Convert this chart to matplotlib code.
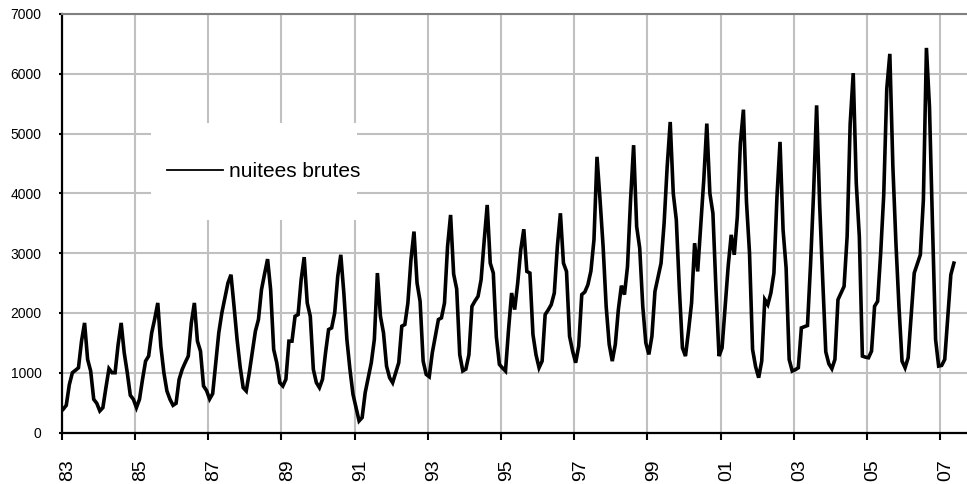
import numpy as np
import matplotlib
matplotlib.use('Agg')
import matplotlib.pyplot as plt
from matplotlib.lines import Line2D
from matplotlib.patches import Rectangle
from matplotlib.transforms import ScaledTranslation

plt.rcParams['font.family'] = ['Liberation Sans', 'DejaVu Sans']

# monthly raw overnight stays (nuitees brutes), Jan..Dec, one list per year
n83 = [390, 455, 800, 1000, 1040, 1083, 1528, 1833, 1222, 1028, 555, 489]
n84 = [361, 416, 750, 1067, 1000, 1000, 1472, 1833, 1333, 1000, 622, 555]
n85 = [416, 555, 889, 1194, 1278, 1667, 1900, 2167, 1444, 1000, 694, 555]
n86 = [455, 489, 889, 1055, 1170, 1278, 1833, 2167, 1528, 1361, 778, 700]
n87 = [560, 650, 1150, 1667, 2000, 2250, 2500, 2639, 2111, 1556, 1100, 750]
n88 = [694, 1000, 1350, 1694, 1889, 2389, 2650, 2900, 2389, 1389, 1167, 833]
n89 = [778, 889, 1528, 1528, 1944, 1972, 2556, 2933, 2167, 1944, 1056, 833]
n90 = [750, 889, 1333, 1722, 1750, 2000, 2611, 2972, 2333, 1556, 1056, 639]
n91 = [420, 194, 250, 667, 920, 1167, 1556, 2667, 1944, 1667, 1111, 917]
n92 = [833, 1000, 1167, 1778, 1806, 2167, 2889, 3361, 2500, 2194, 1194, 972]
n93 = [933, 1333, 1610, 1889, 1917, 2167, 3111, 3639, 2650, 2400, 1300, 1030]
n94 = [1060, 1300, 2111, 2200, 2278, 2556, 3200, 3806, 2833, 2667, 1600, 1139]
n95 = [1080, 1028, 1722, 2333, 2056, 2500, 3056, 3400, 2694, 2667, 1639, 1300]
n96 = [1083, 1194, 1972, 2050, 2139, 2333, 3111, 3667, 2833, 2694, 1611, 1361]
n97 = [1167, 1444, 2306, 2350, 2470, 2700, 3222, 4611, 3889, 3111, 2111, 1472]
n98 = [1194, 1472, 2056, 2456, 2306, 2778, 3889, 4806, 3444, 3083, 2111, 1500]
n99 = [1306, 1611, 2361, 2600, 2833, 3500, 4444, 5194, 4000, 3556, 2400, 1417]
n00 = [1278, 1700, 2167, 3167, 2694, 3450, 4222, 5167, 4000, 3667, 2400, 1278]
n01 = [1417, 2100, 2778, 3306, 2972, 3611, 4833, 5400, 3861, 3000, 1389, 1100]
n02 = [917, 1194, 2222, 2139, 2333, 2667, 3944, 4861, 3389, 2750, 1222, 1028]
n03 = [1050, 1083, 1750, 1770, 1789, 2800, 4000, 5472, 3800, 2550, 1350, 1150]
n04 = [1067, 1222, 2222, 2333, 2444, 3278, 5167, 6011, 4167, 3278, 1278, 1260]
n05 = [1250, 1361, 2111, 2194, 3000, 3972, 5750, 6333, 4444, 3167, 2100, 1194]
n06 = [1083, 1250, 1950, 2667, 2820, 2972, 3889, 6433, 5444, 3444, 1556, 1111]
n07 = [1122, 1222, 1930, 2639, 2833]

tick_labels = ['83', '85', '87', '89', '91', '93', '95', '97',
               '99', '01', '03', '05', '07']
y_ticks = [0, 1000, 2000, 3000, 4000, 5000, 6000, 7000]
series_name = 'nuitees brutes'

years = [n83, n84, n85, n86, n87, n88, n89, n90, n91, n92, n93, n94, n95,
         n96, n97, n98, n99, n00, n01, n02, n03, n04, n05, n06, n07]
values = np.concatenate([np.array(y, dtype=float) for y in years])
months = np.arange(len(values))

fig = plt.figure(figsize=(9.67, 4.84), dpi=100)
ax = fig.add_axes([0.0638, 0.1064, 0.9362, 0.8647])

ax.plot(months, values, color='black', lw=2.6, solid_joinstyle='miter', zorder=3)

# category axis: ticks sit between categories, one label every 24 months
ax.set_xlim(-0.5, 296.3)
ax.set_xticks(np.arange(len(tick_labels)) * 24 - 0.5)
ax.set_xticklabels(tick_labels, rotation=90)
ax.set_ylim(0, 7000)
ax.set_yticks(y_ticks)

ax.set_axisbelow(True)
ax.grid(True, color='#c0c0c0', lw=1.5)

for s in ['left', 'bottom']:
    ax.spines[s].set_color('black')
    ax.spines[s].set_linewidth(1.6)
ax.spines['top'].set_color('#808080')
ax.spines['top'].set_linewidth(1.5)
ax.spines['right'].set_visible(False)

ax.tick_params(axis='x', direction='out', length=5, width=1.5, pad=14.5,
               labelsize=14, colors='black')
ax.tick_params(axis='y', direction='out', length=2.4, width=1.5, pad=12,
               labelsize=10, colors='black')
shift = ScaledTranslation(0.06, 0, fig.dpi_scale_trans)
for lbl in ax.get_xticklabels():
    lbl.set_transform(lbl.get_transform() + shift)

# legend box (white, hides gridlines behind it)
ax.add_patch(Rectangle((0.0983, 0.5078), 0.2279, 0.2325, transform=ax.transAxes,
                       facecolor='white', edgecolor='none', zorder=1.5))
handle = Line2D([], [], color='black', lw=1.3)
ax.legend([handle], [series_name], loc='center left',
          bbox_to_anchor=(0.116, 0.6237), frameon=False, fontsize=15,
          handlelength=2.68, handletextpad=0.3, borderpad=0, borderaxespad=0)

fig.savefig('out.png', dpi=100)
